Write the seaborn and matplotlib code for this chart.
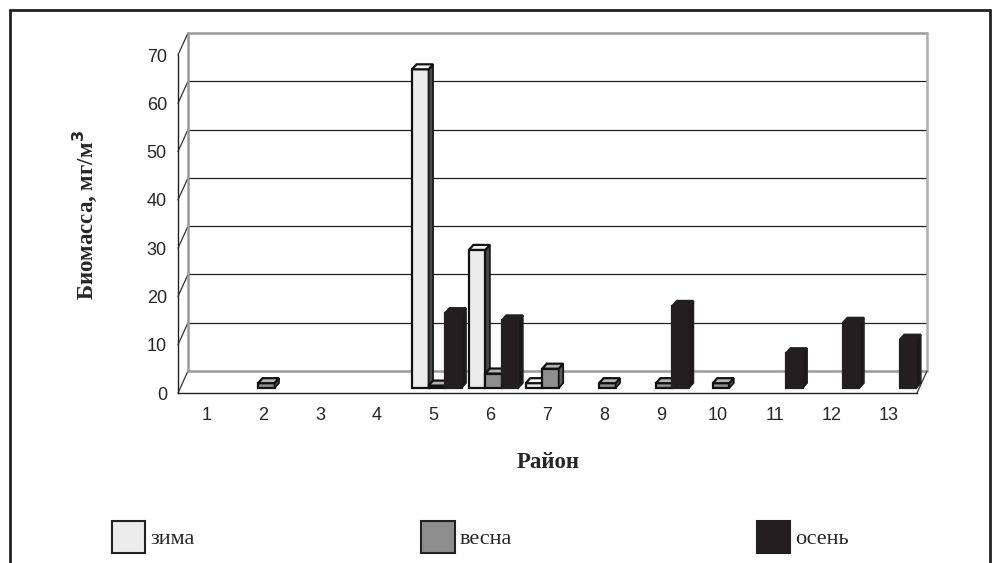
import numpy as np
import pandas as pd
import seaborn as sns
import matplotlib.pyplot as plt
from matplotlib.patches import Polygon, Rectangle
from matplotlib.lines import Line2D
from matplotlib.transforms import ScaledTranslation

# Biomass by district and season, mg/m3
districts = [str(i) for i in range(1, 14)]
seasons = ["зима", "весна", "осень"]
winter = [0, 0, 0, 0, 66, 28.6, 1, 0, 0, 0, 0, 0, 0]
spring = [0, 1, 0, 0, 0.5, 3, 4, 1, 1, 1, 0, 0, 0]
autumn = [0, 0, 0, 0, 15.5, 14, 0, 0, 17, 0, 7.2, 13.5, 10]
y_ticks = [0, 10, 20, 30, 40, 50, 60, 70]

df = pd.DataFrame({
    "Район": districts * 3,
    "Биомасса": winter + spring + autumn,
    "Сезон": [s for s in seasons for _ in districts],
})

# face colours: front, top, side
faces = {
    "зима": ("#ececec", "#f5f5f5", "#4a4a4a"),
    "весна": ("#8e8e8e", "#b4b4b4", "#5c5c5c"),
    "осень": ("#231f20", "#231f20", "#1b1818"),
}
edges = {"зима": "#111111", "весна": "#111111", "осень": "#231f20"}

sns.set_style("white")
plt.rcParams["font.family"] = ["Liberation Sans", "DejaVu Sans"]

W, H = 999, 563
fig = plt.figure(figsize=(W / 100, H / 100), dpi=100)


def frect(x0, y0, x1, y1):
    return [x0 / W, 1 - y1 / H, (x1 - x0) / W, (y1 - y0) / H]


ax = fig.add_axes(frect(178, 55, 917, 393))
sns.barplot(data=df, x="Район", y="Биомасса", hue="Сезон", hue_order=seasons,
            palette=[faces[s][0] for s in seasons], saturation=1, width=0.87,
            ax=ax, legend=False, linewidth=1.6, edgecolor="#111111")
ax.set_xlim(-0.5, 12.5)
ax.set_ylim(0, 70)

ppx = ax.bbox.width / 13.0   # pixels per category
ppy = ax.bbox.height / 70.0  # pixels per unit

# bars sit a little into the depth of the floor
shift = ax.transData + ScaledTranslation(3 / 100, 5 / 100, fig.dpi_scale_trans)
ddx, ddy = 4.5 / ppx, 5 / ppy  # bar depth in data units

n = len(districts)
for k, p in enumerate(ax.patches[: 3 * n]):
    season = seasons[k // n]
    h = p.get_height()
    if h <= 0:
        p.set_visible(False)
        continue
    front, top, side = faces[season]
    z = 3 + seasons.index(season)
    p.set_transform(shift)
    p.set_zorder(z)
    p.set_edgecolor(edges[season])
    x0, w = p.get_x(), p.get_width()
    x1 = x0 + w
    top_poly = Polygon([(x0, h), (x1, h), (x1 + ddx, h + ddy), (x0 + ddx, h + ddy)],
                       closed=True, facecolor=top, edgecolor=edges[season],
                       linewidth=1.6, transform=shift, zorder=z, clip_on=False)
    side_poly = Polygon([(x1, 0), (x1, h), (x1 + ddx, h + ddy), (x1 + ddx, ddy)],
                        closed=True, facecolor=side, edgecolor=edges[season],
                        linewidth=1.2, transform=shift, zorder=z, clip_on=False)
    ax.add_patch(side_poly)
    ax.add_patch(top_poly)

# back wall: offset of the rear plane
bdx, bdy = 10 / ppx, 22 / ppy
x_left, x_right = -0.5, 12.5
grey = "#9a9a9a"
for v in y_ticks:
    if 0 < v < 70:
        ax.plot([x_left + bdx, x_right + bdx], [v + bdy, v + bdy], color="#222222",
                lw=0.9, zorder=1, clip_on=False)
    ax.plot([x_left, x_left + bdx], [v, v + bdy], color="#333333", lw=0.9,
            zorder=1, clip_on=False)
ax.plot([x_left + bdx, x_right + bdx], [70 + bdy, 70 + bdy], color=grey, lw=1.8,
        zorder=1, clip_on=False)
ax.plot([x_left + bdx, x_right + bdx], [bdy, bdy], color=grey, lw=1.8,
        zorder=1, clip_on=False)
ax.plot([x_left + bdx, x_left + bdx], [bdy, 70 + bdy], color=grey, lw=1.8,
        zorder=1, clip_on=False)
ax.plot([x_right + bdx, x_right + bdx], [bdy, 70 + bdy], color="#b0b0b0", lw=1.8,
        zorder=1, clip_on=False)
ax.plot([x_right, x_right + bdx], [0, bdy], color="#333333", lw=0.9,
        zorder=1, clip_on=False)

# axes styling
for s in ["top", "right"]:
    ax.spines[s].set_visible(False)
for s in ["left", "bottom"]:
    ax.spines[s].set_color("#222222")
    ax.spines[s].set_linewidth(1.0)
ax.set_yticks(y_ticks)
ax.set_yticklabels([str(v) for v in y_ticks], fontsize=13)
ax.tick_params(axis="y", length=5, width=1, color="#222222", direction="out", pad=3)
ax.set_xticks(range(n))
ax.set_xticklabels(districts, fontsize=13)
ax.tick_params(axis="x", length=0, pad=10)
ax.set_xticks(np.arange(-0.5, 13, 1), minor=True)
ax.tick_params(axis="x", which="minor", length=6, width=1, color="#222222",
               direction="out")
ax.set_xlabel("")
ax.set_ylabel("")
ax.grid(False)
ax.set_facecolor("none")

serif = ["Liberation Serif", "DejaVu Serif"]
fig.text(548 / W, 1 - 462 / H, "Район", ha="center", va="center",
         fontsize=16.5, fontweight="bold", family=serif)
fig.text(85 / W, 1 - 215 / H, "Биомасса, мг/м$^\\mathbf{3}$", ha="center",
         va="center", rotation=90, fontsize=16.5, fontweight="bold", family=serif)

# legend along the bottom
legend_pos = [(112, 145), (421, 455), (757, 790)]
for s, (lx0, lx1) in zip(seasons, legend_pos):
    fig.add_artist(Rectangle((lx0 / W, 1 - 553 / H), (lx1 - lx0) / W, 32 / H,
                             transform=fig.transFigure, facecolor=faces[s][0],
                             edgecolor="#222222" if s != "осень" else faces[s][0],
                             linewidth=1.5))
    fig.text((lx1 + 5) / W, 1 - 540 / H, s, ha="left", va="center", fontsize=16,
             family=serif)

# outer frame
fig.add_artist(Line2D([10 / W, 10 / W], [0, 1 - 10 / H], transform=fig.transFigure,
                      color="#222222", lw=2))
fig.add_artist(Line2D([10 / W, 990 / W], [1 - 10 / H, 1 - 10 / H],
                      transform=fig.transFigure, color="#222222", lw=2))
fig.add_artist(Line2D([990 / W, 990 / W], [0, 1 - 10 / H], transform=fig.transFigure,
                      color="#222222", lw=2))

fig.savefig("out.png", dpi=100)
